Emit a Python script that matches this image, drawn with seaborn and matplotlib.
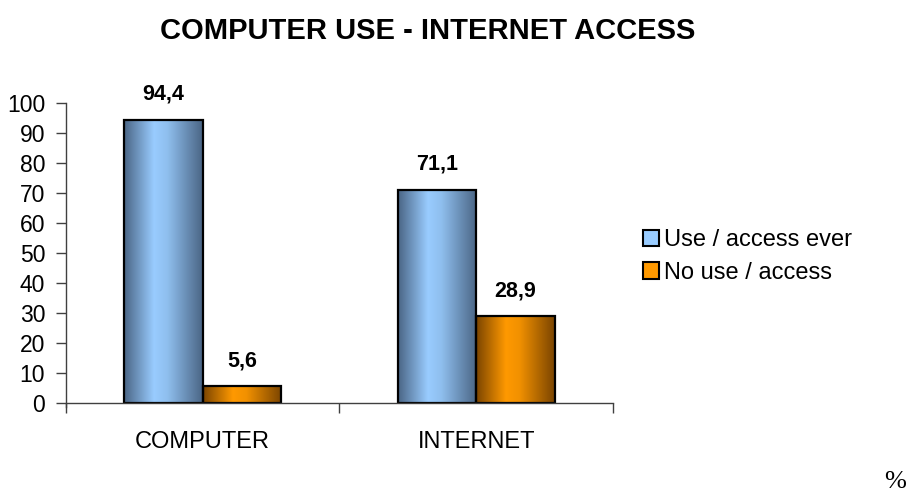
import numpy as np
import pandas as pd
import matplotlib
matplotlib.use("Agg")
import matplotlib.pyplot as plt
from matplotlib.colors import LinearSegmentedColormap
from matplotlib.patches import Patch
import seaborn as sns

# data
categories = ["COMPUTER", "INTERNET"]
series = ["Use / access ever", "No use / access"]
use_values = [94.4, 71.1]
no_use_values = [5.6, 28.9]

df = pd.DataFrame({
    "category": categories * 2,
    "group": [series[0]] * 2 + [series[1]] * 2,
    "value": use_values + no_use_values,
})

sns.set_style("white")
plt.rcParams["font.family"] = ["Liberation Sans", "DejaVu Sans"]
plt.rcParams["text.color"] = "black"
plt.rcParams["xtick.color"] = "black"
plt.rcParams["ytick.color"] = "black"

fig = plt.figure(figsize=(9.1, 4.92), dpi=100)
ax = fig.add_axes([0.0725, 0.181, 0.601, 0.6098])

base_colors = ["#99ccff", "#ff9900"]
sns.barplot(data=df, x="category", y="value", hue="group", hue_order=series,
            palette=base_colors, width=0.574, edgecolor="black", linewidth=1.6,
            legend=False, ax=ax)

# cylinder-like horizontal gradients, clipped to each bar
grad_maps = [
    LinearSegmentedColormap.from_list("blue", [(0, "#4a6585"), (0.38, "#99ccff"), (0.55, "#8fbfee"), (1, "#4a6585")]),
    LinearSegmentedColormap.from_list("orange", [(0, "#7a4400"), (0.38, "#ff9900"), (0.55, "#f29100"), (1, "#7a4400")]),
]
grad = np.linspace(0, 1, 256).reshape(1, -1)
n_cat = len(categories)
for i, bar in enumerate(ax.patches[:2 * n_cat]):
    x0, y0 = bar.get_x(), bar.get_y()
    w, h = bar.get_width(), bar.get_height()
    im = ax.imshow(grad, cmap=grad_maps[i // n_cat], aspect="auto",
                   extent=[x0, x0 + w, y0, y0 + h], zorder=bar.get_zorder() - 0.1,
                   interpolation="bicubic")
    im.set_clip_path(bar)
    bar.set_facecolor("none")
    ax.text(x0 + w / 2, y0 + h + 5, f"{h:.1f}".replace(".", ","),
            ha="center", va="bottom", fontsize=15.5, fontweight="bold")

ax.set_xlim(-0.5, 1.5)
ax.set_ylim(0, 100)
ax.set_yticks(range(0, 101, 10))
ax.set_xlabel("")
ax.set_ylabel("")

for s in ["top", "right"]:
    ax.spines[s].set_visible(False)
ax.spines["left"].set_bounds(-1.5, 100)
for s in ["left", "bottom"]:
    ax.spines[s].set_color("#404040")
    ax.spines[s].set_linewidth(1)

ax.tick_params(axis="y", which="major", left=True, length=7, width=1,
               color="#404040", labelsize=16.5, pad=8)
ax.tick_params(axis="x", which="major", bottom=False, labelsize=17, pad=17)
ax.set_xticks([-0.5, 0.5, 1.5], minor=True)
ax.tick_params(axis="x", which="minor", bottom=True, length=7, width=1, color="#404040")

fig.text(0.47, 0.938, "COMPUTER USE - INTERNET ACCESS", ha="center", va="center",
         fontsize=21, fontweight="bold")

handles = [Patch(facecolor=c, edgecolor="black", linewidth=1.5) for c in base_colors]
fig.legend(handles, series, loc="upper left", bbox_to_anchor=(0.696, 0.553),
           frameon=False, fontsize=17, handlelength=0.7, handleheight=0.7,
           handletextpad=0.2, labelspacing=0.45, borderaxespad=0)

fig.text(0.996, 0.008, "%", ha="right", va="baseline", fontsize=19,
         family=["Liberation Serif", "DejaVu Serif"])

fig.savefig("out.png", dpi=100)
